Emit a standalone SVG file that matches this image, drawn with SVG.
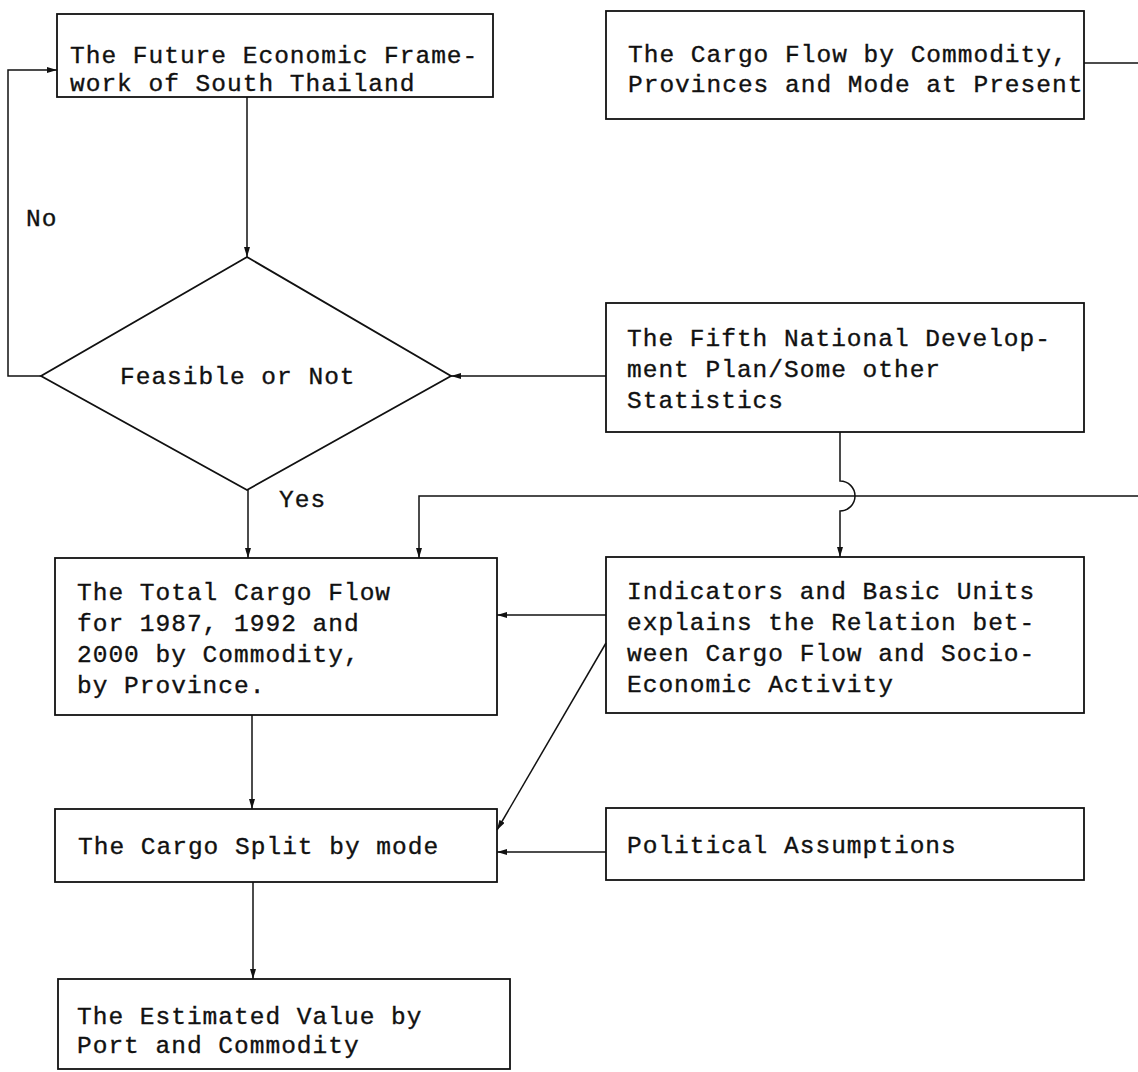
<svg xmlns="http://www.w3.org/2000/svg" width="1138" height="1072" viewBox="0 0 1138 1072">
<style>
.bg{fill:#ffffff}
.box{fill:none;stroke:#111;stroke-width:1.8}
.ln{fill:none;stroke:#111;stroke-width:1.5}
.t{font-family:"Liberation Mono","DejaVu Sans Mono",monospace;font-size:24.5px;letter-spacing:1px;fill:#111;stroke:#111;stroke-width:0.35}
</style>
<defs>
<marker id="ah" viewBox="0 0 10 6" refX="10" refY="3" markerWidth="10" markerHeight="6" markerUnits="userSpaceOnUse" orient="auto">
<path d="M0,0 L10,3 L0,6 z" fill="#111"/>
</marker>
</defs>
<rect class="bg" x="0" y="0" width="1138" height="1072"/>
<g id="connectors">
<path class="ln" d="M247,97 L247,257" marker-end="url(#ah)"/>
<path class="ln" d="M41,376 L8,376 L8,70 L57,70" marker-end="url(#ah)"/>
<path class="ln" d="M1084,63 L1138,63"/>
<path class="ln" d="M606,376 L451,376" marker-end="url(#ah)"/>
<path class="ln" d="M248,490 L248,558" marker-end="url(#ah)"/>
<path class="ln" d="M840,432 L840,481 A15,15 0 0 1 840,511 L840,557" marker-end="url(#ah)"/>
<path class="ln" d="M1138,496 L419,496 L419,558" marker-end="url(#ah)"/>
<path class="ln" d="M606,615 L497,615" marker-end="url(#ah)"/>
<path class="ln" d="M606,643 L497,830" marker-end="url(#ah)"/>
<path class="ln" d="M606,852 L497,852" marker-end="url(#ah)"/>
<path class="ln" d="M252,715 L252,809" marker-end="url(#ah)"/>
<path class="ln" d="M253,882 L253,979" marker-end="url(#ah)"/>
</g>
<g id="n1">
<rect class="box" x="57" y="14" width="436" height="83"/>
<text class="t" x="70" y="63">The Future Economic Frame-</text>
<text class="t" x="70" y="91">work of South Thailand</text>
</g>
<g id="n2">
<rect class="box" x="606" y="11" width="478" height="108"/>
<text class="t" x="628" y="62">The Cargo Flow by Commodity,</text>
<text class="t" x="628" y="92">Provinces and Mode at Present</text>
</g>
<g id="n3">
<path class="box" d="M247,257 L451,376 L247,490 L41,376 z"/>
<text class="t" x="120" y="384">Feasible or Not</text>
</g>
<g id="n4">
<rect class="box" x="606" y="303" width="478" height="129"/>
<text class="t" x="627" y="346">The Fifth National Develop-</text>
<text class="t" x="627" y="377">ment Plan/Some other</text>
<text class="t" x="627" y="408">Statistics</text>
</g>
<g id="labels">
<text class="t" x="26" y="226">No</text>
<text class="t" x="279" y="507">Yes</text>
</g>
<g id="n5">
<rect class="box" x="55" y="558" width="442" height="157"/>
<text class="t" x="77" y="600">The Total Cargo Flow</text>
<text class="t" x="77" y="631">for 1987, 1992 and</text>
<text class="t" x="77" y="662">2000 by Commodity,</text>
<text class="t" x="77" y="693">by Province.</text>
</g>
<g id="n6">
<rect class="box" x="606" y="557" width="478" height="156"/>
<text class="t" x="627" y="599">Indicators and Basic Units</text>
<text class="t" x="627" y="630">explains the Relation bet-</text>
<text class="t" x="627" y="661">ween Cargo Flow and Socio-</text>
<text class="t" x="627" y="692">Economic Activity</text>
</g>
<g id="n7">
<rect class="box" x="55" y="809" width="442" height="73"/>
<text class="t" x="78" y="854">The Cargo Split by mode</text>
</g>
<g id="n8">
<rect class="box" x="606" y="808" width="478" height="72"/>
<text class="t" x="627" y="853">Political Assumptions</text>
</g>
<g id="n9">
<rect class="box" x="58" y="979" width="452" height="90"/>
<text class="t" x="77" y="1024">The Estimated Value by</text>
<text class="t" x="77" y="1053">Port and Commodity</text>
</g>
</svg>
